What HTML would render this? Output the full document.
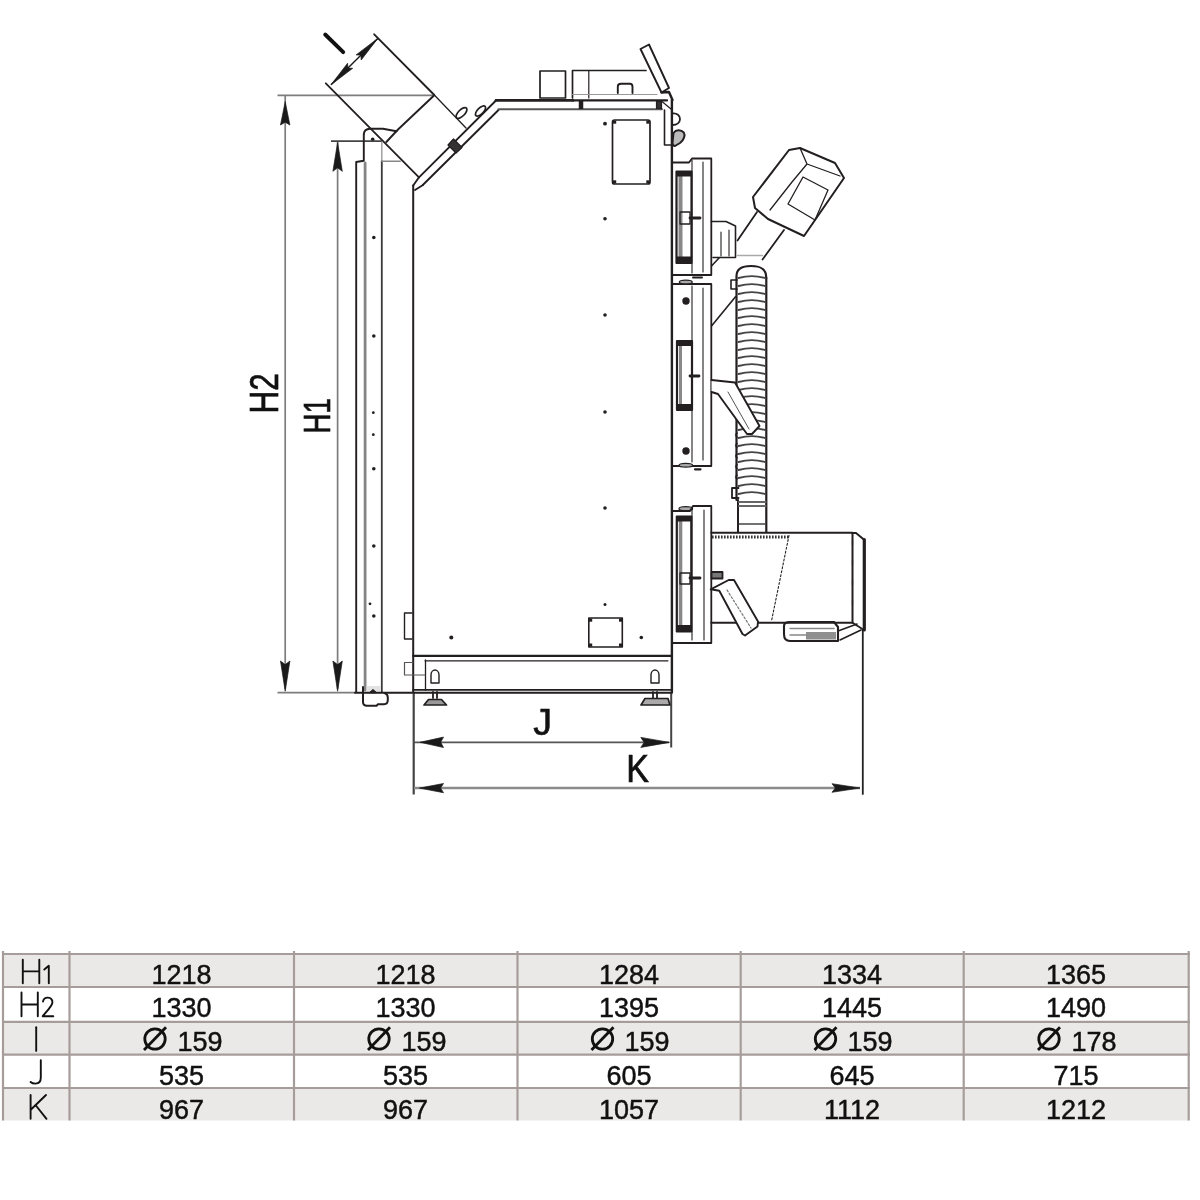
<!DOCTYPE html>
<html><head><meta charset="utf-8"><title>Boiler dimensions</title>
<style>
html,body{margin:0;padding:0;background:#fff;}
body{width:1200px;height:1200px;overflow:hidden;position:relative;font-family:"Liberation Sans",sans-serif;}
svg{position:absolute;left:0;top:0;will-change:transform;}
</style></head><body>
<svg width="1200" height="1200" viewBox="0 0 1200 1200">
<!-- ============ TABLE ============ -->
<g id="table">
  <rect x="3" y="954" width="1186" height="33" fill="#ebe9e8"/>
  <rect x="3" y="1021" width="1186" height="34" fill="#ebe9e8"/>
  <rect x="3" y="1088" width="1186" height="32.5" fill="#ebe9e8"/>
  <g stroke="#a69d9b" stroke-width="2.2" fill="none">
    <line x1="2" y1="954" x2="1190" y2="954"/>
    <line x1="2" y1="987" x2="1190" y2="987"/>
    <line x1="2" y1="1021.8" x2="1190" y2="1021.8"/>
    <line x1="2" y1="1054.7" x2="1190" y2="1054.7"/>
    <line x1="2" y1="1088" x2="1190" y2="1088"/>
    <line x1="3" y1="951" x2="3" y2="1120.5"/>
    <line x1="69.5" y1="951" x2="69.5" y2="1120.5"/>
    <line x1="294" y1="951" x2="294" y2="1120.5"/>
    <line x1="517.5" y1="951" x2="517.5" y2="1120.5"/>
    <line x1="740.7" y1="951" x2="740.7" y2="1120.5"/>
    <line x1="963.7" y1="951" x2="963.7" y2="1120.5"/>
    <line x1="1188.7" y1="951" x2="1188.7" y2="1120.5"/>
  </g>
  <!-- row labels drawn as thin strokes -->
  <g stroke="#111" stroke-width="1.9" fill="none" stroke-linecap="round" stroke-linejoin="round">
    <path d="M22.8 959.8V983.2M39.3 959.8V983.2M22.8 971.4H39.3"/>
    <path d="M44.3 969.6L48.8 965.8V983.2"/>
    <path d="M21.5 992.5V1016.3M37.8 992.5V1016.3M21.5 1004.5H37.8"/>
    <path d="M43 1001.5C43.5 998.5 46 997.5 48 997.6C51 997.8 52.6 1000 52.4 1002.6C52.2 1005.6 49.5 1008.2 42.7 1016.2H53.3"/>
    <path d="M36.2 1027.3V1050.9"/>
    <path d="M40.8 1060.2V1077.5C40.8 1082 38.8 1083.6 35.5 1083.6C33.2 1083.6 31.6 1083 30.6 1082"/>
    <path d="M30.6 1095V1118.8M46 1095L31 1109.5M35.5 1105L46.5 1118.8"/>
  </g>
  <g font-family="Liberation Sans, sans-serif" font-size="27" fill="#111" stroke="#111" stroke-width="0.45" text-anchor="middle">
    <text x="181.5" y="984">1218</text>
    <text x="405.5" y="984">1218</text>
    <text x="629" y="984">1284</text>
    <text x="852" y="984">1334</text>
    <text x="1076" y="984">1365</text>
    <text x="181.5" y="1017">1330</text>
    <text x="405.5" y="1017">1330</text>
    <text x="629" y="1017">1395</text>
    <text x="852" y="1017">1445</text>
    <text x="1076" y="1017">1490</text>
    <text x="200" y="1051">159</text>
    <text x="424" y="1051">159</text>
    <text x="647" y="1051">159</text>
    <text x="870" y="1051">159</text>
    <text x="1094" y="1051">178</text>
    <text x="181.5" y="1084.5">535</text>
    <text x="405.5" y="1084.5">535</text>
    <text x="629" y="1084.5">605</text>
    <text x="852" y="1084.5">645</text>
    <text x="1076" y="1084.5">715</text>
    <text x="181.5" y="1119">967</text>
    <text x="405.5" y="1119">967</text>
    <text x="629" y="1119">1057</text>
    <text x="852" y="1119">1112</text>
    <text x="1076" y="1119">1212</text>
  </g>
  <!-- diameter symbols -->
  <g stroke="#111" stroke-width="2.8" fill="none">
    <circle cx="155.0" cy="1039" r="10.2"/><line x1="144.0" y1="1050" x2="166.0" y2="1027.2"/>
    <circle cx="379.0" cy="1039" r="10.2"/><line x1="368.0" y1="1050" x2="390.0" y2="1027.2"/>
    <circle cx="602.5" cy="1039" r="10.2"/><line x1="591.5" y1="1050" x2="613.5" y2="1027.2"/>
    <circle cx="825.5" cy="1039" r="10.2"/><line x1="814.5" y1="1050" x2="836.5" y2="1027.2"/>
    <circle cx="1049.0" cy="1039" r="10.2"/><line x1="1038.0" y1="1050" x2="1060.0" y2="1027.2"/>
  </g>
</g>

<!-- ============ DIAGRAM ============ -->
<g id="dims">
<g stroke="#7d7d7d" stroke-width="1.7" fill="none">
  <line x1="277.5" y1="95.3" x2="434" y2="95.3"/>
  <line x1="285.2" y1="95" x2="285.2" y2="689"/>
  <line x1="337.6" y1="141" x2="337.6" y2="689"/>
  <line x1="277.5" y1="692.6" x2="356" y2="692.6"/>
</g>
<line x1="331" y1="141.2" x2="382" y2="141.2" stroke="#444" stroke-width="1.7"/>
<path d="M285.2 101.7L280.5 125.0L285.2 122.2L289.9 125.0Z" fill="#1a1a1a" stroke="#1a1a1a" stroke-width="0.7" stroke-linejoin="round"/>
<path d="M285.2 691.2L289.9 661.0L285.2 664.6L280.5 661.0Z" fill="#1a1a1a" stroke="#1a1a1a" stroke-width="0.7" stroke-linejoin="round"/>
<path d="M337.6 142.5L332.9 171.3L337.6 167.8L342.3 171.3Z" fill="#1a1a1a" stroke="#1a1a1a" stroke-width="0.7" stroke-linejoin="round"/>
<path d="M337.6 691.2L342.3 661.0L337.6 664.6L332.9 661.0Z" fill="#1a1a1a" stroke="#1a1a1a" stroke-width="0.7" stroke-linejoin="round"/>
<g fill="none">
  <line x1="413.7" y1="692" x2="413.7" y2="794.5" stroke="#444" stroke-width="2.2"/>
  <line x1="671.2" y1="692" x2="671.2" y2="747.5" stroke="#444" stroke-width="2"/>
  <line x1="862.8" y1="629" x2="862.8" y2="794.7" stroke="#222" stroke-width="1.8"/>
  <line x1="414" y1="742.4" x2="669" y2="742.4" stroke="#555" stroke-width="1.9"/>
  <line x1="414" y1="788" x2="860" y2="788" stroke="#8a8a8a" stroke-width="2.3"/>
</g>
<path d="M420.0 742.3L443.5 747.5L440.7 742.3L443.5 737.1Z" fill="#1a1a1a" stroke="#1a1a1a" stroke-width="0.7" stroke-linejoin="round"/>
<path d="M669.5 742.4L640.8 737.4L644.2 742.4L640.8 747.4Z" fill="#1a1a1a" stroke="#1a1a1a" stroke-width="0.7" stroke-linejoin="round"/>
<path d="M419.4 788.1L443.5 792.7L440.6 788.1L443.5 783.5Z" fill="#1a1a1a" stroke="#1a1a1a" stroke-width="0.7" stroke-linejoin="round"/>
<path d="M860.0 788.0L832.0 783.7L835.4 788.0L832.0 792.3Z" fill="#1a1a1a" stroke="#1a1a1a" stroke-width="0.7" stroke-linejoin="round"/>
<path d="M331 84.8L377.8 38.4" stroke="#1a1a1a" stroke-width="1.4" fill="none"/>
<path d="M331.0 84.8L352.7 68.3L347.9 68.1L347.6 63.2Z" fill="#1a1a1a" stroke="#1a1a1a" stroke-width="0.7" stroke-linejoin="round"/>
<path d="M377.8 38.4L356.1 54.9L360.9 55.1L361.2 60.0Z" fill="#1a1a1a" stroke="#1a1a1a" stroke-width="0.7" stroke-linejoin="round"/>
<path d="M325.2 34.5L343.2 52.2" stroke="#111" stroke-width="3.9" stroke-linecap="round"/>
<g font-family="Liberation Sans, sans-serif" fill="#111" stroke="#111" stroke-width="0.7">
  <text x="533.3" y="735" font-size="37.5">J</text>
  <text transform="translate(626.3,781.7) scale(0.88,1)" font-size="38.6">K</text>
  <text transform="translate(278.1,413.4) rotate(-90) scale(0.787,1)" font-size="40">H2</text>
  <text transform="translate(330.2,433.4) rotate(-90) scale(0.732,1)" font-size="37.8">H1</text>
</g>
</g>
<g id="drawing" stroke="#231f20" fill="none" stroke-width="1.9" stroke-linejoin="round" stroke-linecap="round">

  <!-- flue / hopper -->
  <path d="M374.2 34.3L434.3 95"/>
  <path d="M434.3 95L466 128" stroke-width="1.3"/>
  <path d="M325.8 83.3L419 177.3" stroke-width="1.8"/>
  <path d="M434 95.5L398 129.5L386.3 142"/>
  <path d="M363.8 134C364 131 366 129 370 128.7L383 128.7L396.5 131.3"/>
  <!-- left front panel -->
  <path d="M363.8 134V160.7L356.2 162V692"/>
  <path d="M365.1 163V690" stroke="#858585" stroke-width="2.8"/>
  <path d="M381.8 142V161.3" stroke="#9a9a9a" stroke-width="1.4"/>
  <path d="M381.8 161.3V692" stroke="#3a3a3a" stroke-width="1.8"/>
  <path d="M381.8 161.3H400.3" stroke="#888" stroke-width="1.4"/>
  <path d="M363 687V702C363 704.5 364.5 705.8 367 705.8H376.5L378 704.2H384C386.3 704.2 387.8 702.5 387.8 700V697.5C387.8 695 386.5 693.5 384.5 693" stroke-width="2"/><rect x="366.5" y="686" width="14" height="5.5" fill="#e2e2e2" stroke="none"/><path d="M369.5 692.5L373 689.5L376.5 692.5Z" fill="#231f20" stroke-width="1"/>
  
  <!-- main body -->
  <path d="M413.2 185.5V692" stroke-width="2"/>
  <path d="M671.9 100V692" stroke-width="2.4"/>
  <!-- chute -->
  <path d="M419 177.3L496 100.5"/>
  <path d="M422.8 185L498.5 110"/>
  <path d="M413.2 185.5L419 177.3M415 190L423 185"/>
  <path d="M453.5 139L462 147.5L456 153L448 145Z" fill="#333" stroke-width="1.2"/>
  <ellipse cx="461.5" cy="113" rx="7" ry="3.2" transform="rotate(-45 461.5 113)" stroke-width="1.7"/>
  <ellipse cx="480.5" cy="111" rx="6.5" ry="3" transform="rotate(-45 480.5 111)" stroke-width="1.7"/>
  <!-- top -->
  <path d="M496 100.4H573" stroke-width="2.8"/><path d="M573 100.4H667" stroke-width="2.1"/>
  <path d="M498.5 109.3H662" stroke="#555" stroke-width="2"/>
  <path d="M581 101V109" stroke-width="4.5" stroke-linecap="butt"/>
  <rect x="540" y="71" width="25.5" height="27" stroke-width="1.7"/>
  <path d="M572.5 98V70.5H646" stroke-width="1.7"/>
  <path d="M588.8 71V98" stroke-width="1.2"/>
  <path d="M572.5 94.5H657" stroke="#999" stroke-width="1.2"/>
  <path d="M617.8 93V86.5C617.8 84.5 619 83.8 621 83.8H630C632 83.8 632.5 85 632.5 87V93" stroke-width="1.9"/>
  <!-- handle top right -->
  <path d="M640.5 49L649 44.5L669 88L661.5 92.5Z" stroke-width="1.9"/>
  <path d="M661.5 92.5L669 92L672.5 100" stroke-width="2.4"/><rect x="656.5" y="101.5" width="5" height="7" fill="#333" stroke-width="1.2"/><path d="M662 101.5L671 109" stroke-width="1.2"/>
  <path d="M664.5 110V145H671" stroke-width="1.6"/>
  <path d="M672.5 113.5C677 113 680 115.5 680 119C680 122.5 677 125 672.5 125" stroke-width="1.8"/>
  <path d="M673.5 133C676 129.5 681 129.5 683.8 132.5C685.5 135 684 140 680 143L675 146C673.5 146 672.5 145 672.5 143Z" fill="#bbb" stroke-width="2"/>
  <!-- plate on body -->
  <path d="M612.5 122Q612.5 120 614.5 120H648Q650 120 650 122V182Q650 184 648 184H614.5Q612.5 184 612.5 182Z" stroke-width="1.7"/>
  <!-- base -->
  <path d="M413.2 655.8H671.8" stroke-width="2.3"/>
  <path d="M425 660.8H668" stroke-width="1.2"/>
  <path d="M425.5 660V690" stroke-width="1.3"/>
  <path d="M413.2 689.8H671.8" stroke-width="1.7"/>
  <path d="M355 692.8H672" stroke-width="2"/>
  <path d="M404.5 662.5H413M404.5 662.5V675H425" stroke="#555" stroke-width="1.2"/>
  <path d="M412 613H404.5V639H412" stroke-width="1.4"/>
  <!-- feet -->
  <path d="M431 683V675C431 672 433 670 435 670C437 670 439 672 439 675V683Z" stroke-width="1.4"/>
  <path d="M433 692V698M437 692V698" stroke-width="1.8"/>
  <path d="M424 705L428.5 699.5H441.5L446.5 705Z" fill="#999" stroke-width="1.7"/>
  <path d="M651 683V675C651 672 653 670 655 670C657 670 659 672 659 675V683Z" stroke-width="1.4"/>
  <path d="M653 692V698M657 692V698" stroke-width="1.8"/>
  <path d="M641 705L645 698.5H668L670 705Z" fill="#aaa" stroke-width="1.7"/>
  <!-- inspection rect bottom -->
  <rect x="588.8" y="618" width="33.5" height="29" stroke-width="1.6"/>

<g stroke-width="1.8">
    <!-- door 1 -->
    <path d="M672 162.5H689L692 158.5H711.3V275H672"/>
    <rect x="676.5" y="171.5" width="15" height="91.5" stroke-width="2.2"/>
    <rect x="678.5" y="175" width="4" height="84" fill="#888" stroke="none"/><rect x="676.5" y="171.5" width="15" height="5" fill="#231f20" stroke="none"/><rect x="676.5" y="256.5" width="15" height="6.5" fill="#231f20" stroke="none"/>
    <path d="M692 160V273M703 162V272" stroke-width="1.1"/>
    <path d="M680 212H690V224H680Z" stroke-width="1.3"/>
    <path d="M690 218H700" stroke-width="2.8"/>
    <!-- door 2 -->
    <path d="M672 284H711.3V466H672"/>
    <path d="M692 286V462M703 288V460" stroke-width="1.1"/>
    <rect x="677" y="341" width="15" height="69" stroke-width="2.2"/>
    <rect x="679" y="345" width="3" height="61" fill="#888" stroke="none"/><rect x="677" y="341" width="15" height="5" fill="#231f20" stroke="none"/><rect x="677" y="404" width="15" height="6" fill="#231f20" stroke="none"/>
    <circle cx="686" cy="301" r="2.8" fill="#231f20"/>
    <circle cx="686" cy="451" r="2.8" fill="#231f20"/>
    <path d="M690 376H699" stroke-width="2.8"/>
    <ellipse cx="685.8" cy="282" rx="6.5" ry="1.9" fill="#aaa" stroke-width="1.2"/><path d="M693 277.5H702" stroke-width="2"/>
    <ellipse cx="685.8" cy="465.2" rx="6.8" ry="1.9" fill="#aaa" stroke-width="1.2"/><ellipse cx="685.8" cy="508.7" rx="6.8" ry="2" fill="#aaa" stroke-width="1.2"/><path d="M695 469.3H700.5" stroke-width="2.2"/>
    <!-- door 3 -->
    <path d="M672 511H690L693 506H711.3V643H672"/>
    <rect x="676.8" y="516.5" width="14.5" height="115" stroke-width="2.2"/>
    <rect x="678.8" y="520" width="3.5" height="108" fill="#888" stroke="none"/><rect x="676.8" y="516.5" width="14.5" height="5" fill="#231f20" stroke="none"/><rect x="676.8" y="625" width="14.5" height="6.5" fill="#231f20" stroke="none"/>
    <path d="M692 510V640M704 510V640" stroke-width="1.1"/>
    <path d="M680 573H690V584H680Z" stroke-width="1.3"/>
    <path d="M690 578H700" stroke-width="2.8"/>
  </g>
<g fill="#231f20" stroke="none"><circle cx="605" cy="123.7" r="1.9"/><circle cx="605" cy="218.8" r="1.8"/><circle cx="605" cy="315" r="1.8"/><circle cx="605" cy="412" r="1.8"/><circle cx="605" cy="508" r="1.8"/><circle cx="605" cy="604.5" r="1.5"/><circle cx="451.3" cy="637.5" r="2"/><circle cx="641.3" cy="637.5" r="1.8"/><circle cx="372.7" cy="139.3" r="1.8"/><circle cx="373.8" cy="237.5" r="1.8"/><circle cx="373.8" cy="336" r="1.8"/><circle cx="373.3" cy="412.7" r="1.4"/><circle cx="373.3" cy="434.7" r="1.4"/><circle cx="373.8" cy="468.8" r="1.8"/><circle cx="373.8" cy="546" r="1.8"/><circle cx="370" cy="603.8" r="1.4"/><circle cx="373.8" cy="616" r="1.8"/><rect x="613" y="120.5" width="3.2" height="3.2"/><rect x="646.3" y="120.5" width="3.2" height="3.2"/><rect x="613" y="180.3" width="3.2" height="3.2"/><rect x="646.3" y="180.3" width="3.2" height="3.2"/><rect x="589" y="618.5" width="3.2" height="3.2"/><rect x="619" y="618.5" width="3.2" height="3.2"/><rect x="589" y="643.5" width="3.2" height="3.2"/><rect x="619" y="643.5" width="3.2" height="3.2"/></g>

  <path d="M753 197L789 150L800 148L835 163L844 178L804 236L768 219L755 208Z" stroke-width="2"/>
  <path d="M800 148L807 164L792 182L770 210M807 164L840 176" stroke-width="1.3"/>
  <path d="M803 177L828 190L815 220L788 204Z" stroke-width="1.3"/>
  <path d="M757 212L737.5 240.5M784 230L762.5 259.5" stroke-width="1.8"/>
  <path d="M737.5 255.5H762.5" stroke="#aaa" stroke-width="1.5"/>
  <!-- bracket -->
  <path d="M711.3 221.5H726L735.5 226V257.5H713" stroke-width="1.6"/>
  <path d="M721 232V256M729 230V256" stroke-width="1.1"/>
  <path d="M711.5 326L735.5 296.7" stroke-width="1.6"/>
  <path d="M711.5 266L719 258" stroke-width="1.6"/>

<path d="M736.5 500V276C736.5 269 741 266 751 266C761 266 766.3 269 766.3 278" stroke-width="2.2"/>
<path d="M766.3 278V532" stroke-width="2.2"/>
<path d="M738 500V532" stroke-width="2"/>
<path d="M737 280H731V289H737" stroke-width="1.6"/>
<path d="M738.5 488H732V498H738.5" stroke-width="1.8"/>
<path d="M738.5 278.0Q752 274.3 765.2 278.0M738.5 286.0Q752 282.3 765.2 286.0M738.5 294.0Q752 290.3 765.2 294.0M738.5 302.0Q752 298.3 765.2 302.0M738.5 310.0Q752 306.3 765.2 310.0M738.5 318.0Q752 314.3 765.2 318.0M738.5 326.0Q752 322.3 765.2 326.0M738.5 334.0Q752 330.3 765.2 334.0M738.5 342.0Q752 338.3 765.2 342.0M738.5 350.0Q752 346.3 765.2 350.0M738.5 358.0Q752 354.3 765.2 358.0M738.5 366.0Q752 362.3 765.2 366.0M738.5 374.0Q752 370.3 765.2 374.0M738.5 382.0Q752 378.3 765.2 382.0M738.5 390.0Q752 386.3 765.2 390.0M738.5 398.0Q752 394.3 765.2 398.0M738.5 406.0Q752 402.3 765.2 406.0M738.5 414.0Q752 410.3 765.2 414.0M738.5 422.0Q752 418.3 765.2 422.0M738.5 430.0Q752 426.3 765.2 430.0M738.5 438.0Q752 434.3 765.2 438.0M738.5 446.0Q752 442.3 765.2 446.0M738.5 454.0Q752 450.3 765.2 454.0M738.5 462.0Q752 458.3 765.2 462.0M738.5 470.0Q752 466.3 765.2 470.0M738.5 478.0Q752 474.3 765.2 478.0M738.5 486.0Q752 482.3 765.2 486.0M738.5 494.0Q752 490.3 765.2 494.0" stroke="#454545" stroke-width="1.9"/>
<path d="M739 502H765.5M739 506H765.5" stroke="#666" stroke-width="2.2"/>
<path d="M739 524H765.5" stroke="#444" stroke-width="1.3"/>
<path d="M737 433.0q-2 2 0 4M737 443.5q-2 2 0 4M737 454.0q-2 2 0 4M737 464.5q-2 2 0 4M737 475.0q-2 2 0 4" stroke-width="1.6"/>

  <path d="M711.5 380L735 382.5L759.5 426L752 434L747 434L718 394L711.5 392" fill="#fff" stroke-width="1.9"/>
  <path d="M728 392L749 429" stroke-width="1" stroke="#555"/>


  <path d="M711.3 532.8H852.5V622.8H711.3" stroke-width="2"/>
  <path d="M852.5 533H856L863.8 539.5" stroke-width="2"/><path d="M864.3 539.5V630" stroke-width="3.2"/><path d="M852.5 622.8L864 630" stroke-width="1.8"/>
  <path d="M712 537H790" stroke="#333" stroke-width="3.2" stroke-dasharray="1.6 1.4" stroke-linecap="butt"/>
  <path d="M789 535.5L771.7 620" stroke-width="1.1" stroke-dasharray="2 2"/>
  <path d="M710.7 589.3L728.7 580L734 580L758 621.5L757.5 626.5L745 635.5L742.5 634L719.3 590.7Z" fill="#fff" stroke-width="1.9"/>
  <path d="M727 590L751 628" stroke-width="1.2" stroke="#777" stroke-dasharray="2 2"/>
  <rect x="711.5" y="572" width="11" height="6.5" fill="#777" stroke-width="1.8"/>
  <path d="M784 626C784 623 786 622 790 622H834L838 627V641H790C786 641 784 638 784 634Z" stroke-width="2.1"/>
  <rect x="806" y="632" width="30" height="7.5" fill="#8f8f8f" stroke="none"/><path d="M790 628.5H834M790 635H806" stroke="#888" stroke-width="1.5"/>
  <path d="M838 631L857 624M840 640L861 630" stroke-width="1.6"/>
  <path d="M852.5 540V620" stroke-width="1.2" stroke-dasharray="5 15"/>

</g>
</svg>
</body></html>
